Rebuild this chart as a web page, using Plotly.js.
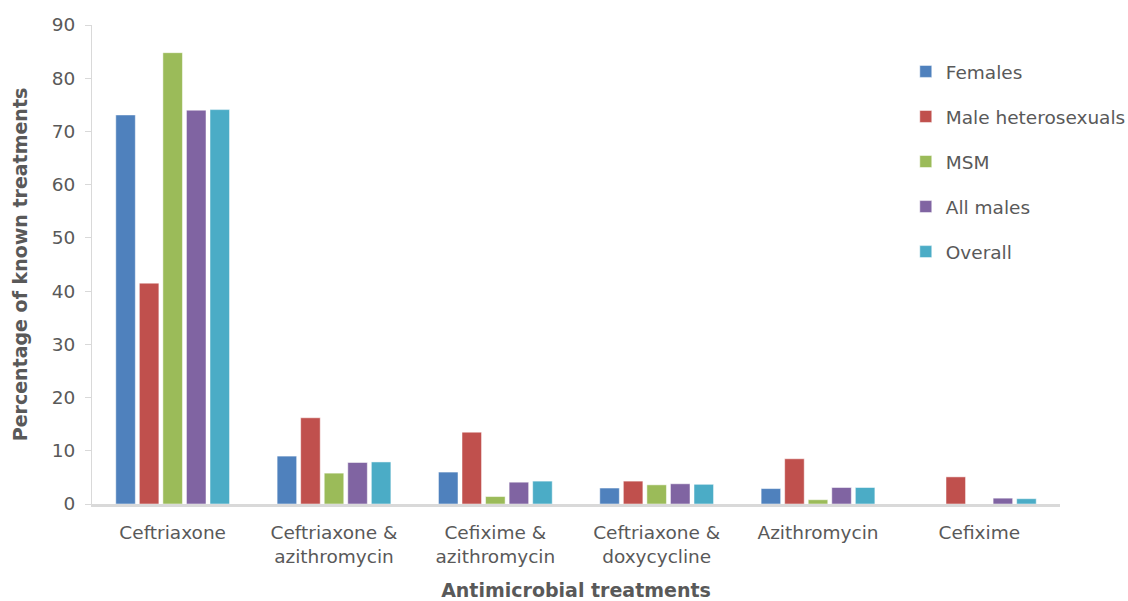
<!DOCTYPE html>
<html>
<head>
<meta charset="utf-8">
<script src="https://cdn.plot.ly/plotly-3.0.1.min.js"></script>
<style>html,body{margin:0;padding:0;background:#fff;}#chart{width:1128px;height:601px;}</style>
</head>
<body>
<div id="chart"></div>
<script>
const categories = ["Ceftriaxone", "Ceftriaxone &<br>azithromycin", "Cefixime &<br>azithromycin", "Ceftriaxone &<br>doxycycline", "Azithromycin", "Cefixime"];
const seriesNames = ["Females", "Male heterosexuals", "MSM", "All males", "Overall"];
const females = [73.1, 9.0, 6.0, 3.0, 2.9, 0];
const maleHetero = [41.5, 16.2, 13.5, 4.3, 8.5, 5.1];
const msm = [84.8, 5.8, 1.4, 3.6, 0.8, 0];
const allMales = [74.0, 7.8, 4.1, 3.8, 3.1, 1.1];
const overall = [74.1, 7.9, 4.3, 3.7, 3.1, 1.0];
const colors = ["#4F81BD", "#C0504D", "#9BBB59", "#8064A2", "#4BACC6"];
const allSeries = [females, maleHetero, msm, allMales, overall];

const traces = allSeries.map((vals, i) => ({
  type: "bar",
  name: seriesNames[i],
  x: categories,
  y: vals,
  legendgroup: "g" + i,
  marker: {color: colors[i], line: {color: "#ffffff", width: 0.5}},
  hoverinfo: "x+y+name"
}));

const font = "DejaVu Sans, Verdana, sans-serif";
const layout = {
  width: 1128, height: 601,
  margin: {l: 92, r: 68, t: 25, b: 97, autoexpand: false},
  paper_bgcolor: "#fff", plot_bgcolor: "#fff",
  barmode: "group",
  bargap: 0.27,
  bargroupgap: 0.17,
  font: {family: font, color: "#595959", size: 18},
  xaxis: {
    showgrid: false, zeroline: false,
    showline: true, linecolor: "#d9d9d9", linewidth: 3,
    ticks: "", ticklabelstandoff: 10,
    tickfont: {size: 18.5, color: "#595959"},
    title: {text: "<b>Antimicrobial treatments</b>", font: {size: 19, color: "#595959"}, standoff: 19}
  },
  yaxis: {
    range: [0, 90], dtick: 10,
    showgrid: false, zeroline: false,
    showline: true, linecolor: "#d9d9d9", linewidth: 1,
    ticks: "outside", ticklen: 6, tickcolor: "#d9d9d9",
    ticklabelstandoff: 6,
    tickfont: {size: 18.5, color: "#595959"},
    title: {text: "<b>Percentage of known treatments</b>", font: {size: 19, color: "#595959"}, standoff: 19}
  },
  legend: {
    xref: "container", yref: "container",
    x: 0.803, xanchor: "left", y: 0.912, yanchor: "top",
    font: {size: 18.5, color: "#595959"},
    tracegroupgap: 18, itemwidth: 30,
    bgcolor: "rgba(0,0,0,0)"
  },
  showlegend: true
};

Plotly.newPlot("chart", traces, layout, {displayModeBar: false, staticPlot: true});
</script>
</body>
</html>
